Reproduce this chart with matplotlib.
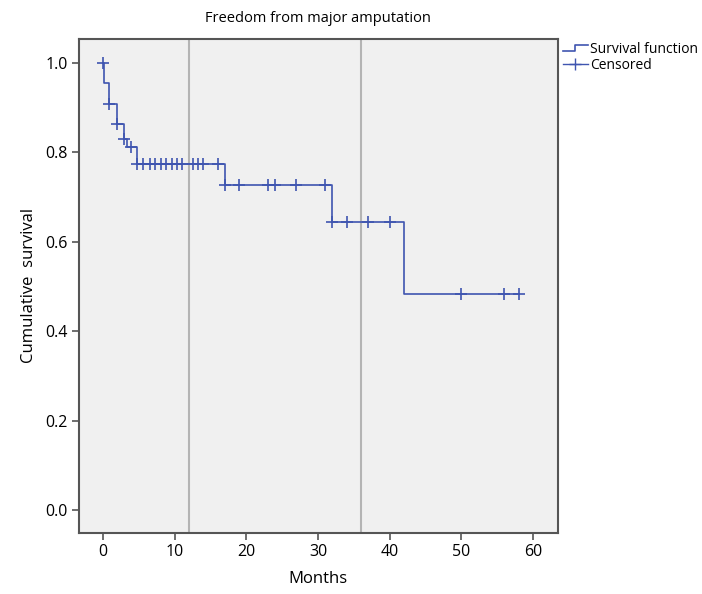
import numpy as np
import matplotlib
matplotlib.use('Agg')
import matplotlib.pyplot as plt
from matplotlib.lines import Line2D
from matplotlib.legend_handler import HandlerBase

plt.rcParams['font.family'] = ['Open Sans', 'DejaVu Sans']

# Kaplan-Meier steps
step_times = [0, 0.2, 0.9, 1.9, 3.0, 3.4, 4.8, 17, 32, 42, 58]
survival = [1.0, 0.955, 0.909, 0.864, 0.831, 0.812, 0.775, 0.727, 0.645, 0.484, 0.484]

# censored observations (months)
censored = [0, 0.9, 1.9, 3.0, 3.9, 4.8, 5.6, 6.5, 7.3, 8.1, 8.8, 9.6, 10.3, 11.0,
            12.6, 13.3, 14, 16, 17, 19, 23, 24, 27, 31, 32, 34, 37, 40, 50, 56, 58]

ref_lines = [12, 36]
xticks = [0, 10, 20, 30, 40, 50, 60]
yticks = [0.0, 0.2, 0.4, 0.6, 0.8, 1.0]

line_col = '#3f55b0'
spine_col = '#555555'

fig = plt.figure(figsize=(7.02, 5.94), dpi=100)
ax = fig.add_axes([0.112, 0.1027, 0.683, 0.832])
ax.set_facecolor('#f0f0f0')

for v in ref_lines:
    ax.axvline(v, color='#b4b4b4', linewidth=1.5, zorder=1)

ax.step(step_times, survival, where='post', color=line_col, linewidth=1.2, zorder=3)

# survival value at each censored time
idx = np.searchsorted(step_times, censored, side='right') - 1
cens_surv = np.array(survival)[idx]
ax.plot(censored, cens_surv, linestyle='none', marker='+', markersize=8,
        markeredgewidth=1.2, color=line_col, zorder=4)

ax.set_xlim(-3.4, 63.5)
ax.set_ylim(-0.051, 1.054)
ax.set_xticks(xticks)
ax.set_yticks(yticks)
ax.set_xticklabels([str(t) for t in xticks])
ax.set_yticklabels(['%.1f' % t for t in yticks])
ax.tick_params(direction='out', length=5, width=1.2, color=spine_col, labelsize=11.5, pad=3)
for s in ax.spines.values():
    s.set_color(spine_col)
    s.set_linewidth(1.5)

ax.set_title('Freedom from major amputation', fontsize=10.5, pad=12)
ax.set_xlabel('Months', fontsize=12, labelpad=8)
ax.set_ylabel('Cumulative  survival', fontsize=12, labelpad=6)


class StepHandler(HandlerBase):
    def create_artists(self, legend, orig_handle, xdescent, ydescent, width, height, fontsize, trans):
        xs = [0, width * 0.5, width * 0.5, width]
        ys = [height * 0.2, height * 0.2, height * 0.8, height * 0.8]
        ln = Line2D(xs, ys, color=orig_handle.get_color(), linewidth=1.2, transform=trans)
        return [ln]


h1 = Line2D([], [], color=line_col)
h2 = Line2D([], [], color=line_col, marker='+', markersize=8, linewidth=1.0)
ax.legend([h1, h2], ['Survival function', 'Censored'], handler_map={h1: StepHandler()},
          loc='upper left', bbox_to_anchor=(0.998, 1.005), frameon=False, fontsize=10,
          handlelength=1.8, handletextpad=0.2, labelspacing=0.1, borderaxespad=0.0)

fig.savefig('out.png', dpi=100)
